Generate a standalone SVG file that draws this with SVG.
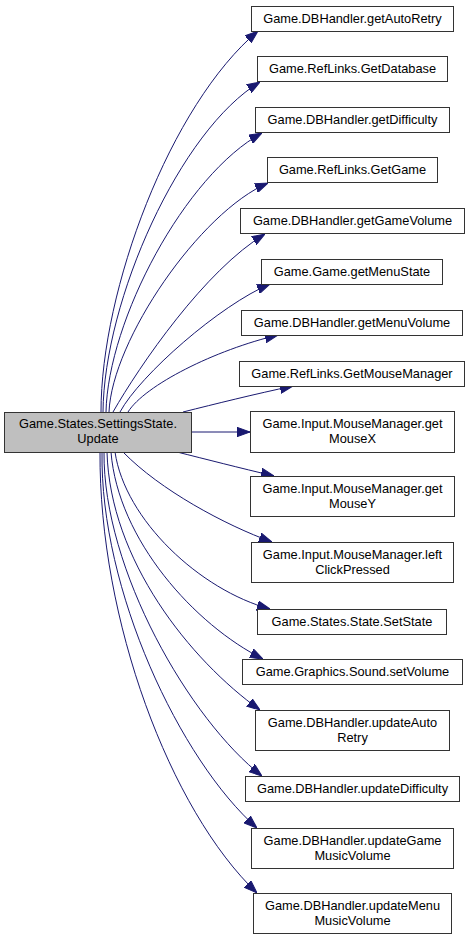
<svg xmlns="http://www.w3.org/2000/svg" width="471" height="939" viewBox="0 0 471 939">
<style>
.n rect{fill:#ffffff;stroke:#333333;stroke-width:1}
.m rect{fill:#bfbfbf;stroke:#333333;stroke-width:1}
text{font-family:"Liberation Sans",Arial,sans-serif;font-size:12.8px;fill:#000000;text-anchor:middle}
.e path{fill:none;stroke:#191970;stroke-width:1;marker-end:url(#arr)}
</style>
<defs>
<marker id="arr" markerUnits="userSpaceOnUse" markerWidth="13" markerHeight="10" viewBox="0 0 13 10" refX="13" refY="5" orient="auto">
<path d="M0,0.3 L13,5 L0,9.7 z" fill="#191970" stroke="#191970" stroke-width="1"/>
</marker>
</defs>
<rect width="471" height="939" fill="#ffffff"/>
<g id="edges" class="e">
<path d="M101,412 C101,290 170,105 258,31"/>
<path d="M103,412 C104,300 180,130 260,82"/>
<path d="M106,412 C108,320 185,175 262,133"/>
<path d="M109,412 C112,340 200,212 268,183"/>
<path d="M113,412 C140,365 205,270 265,234"/>
<path d="M120,412 C140,375 220,305 270,284"/>
<path d="M128,412 C145,385 215,350 278,335"/>
<path d="M183,412 C215,404 255,394 293,386"/>
<path d="M192,432 L250,432"/>
<path d="M177,452 C205,459 240,468 274,476"/>
<path d="M123,452 C160,490 225,525 272,542"/>
<path d="M115,452 C125,520 200,590 270,609"/>
<path d="M111,452 C118,540 195,625 263,659"/>
<path d="M107,452 C110,560 190,660 260,710"/>
<path d="M104,452 C103,570 190,720 262,776"/>
<path d="M102,452 C100,590 180,760 257,828"/>
<path d="M100,452 C99,620 170,810 257,893"/>
</g>
<g id="main" class="m"><rect x="4.5" y="412.5" width="187" height="40"/><text x="98" y="428">Game.States.SettingsState.</text><text x="98" y="443">Update</text></g>
<g id="n1" class="n"><rect x="251.5" y="6.5" width="202" height="25"/><text x="352.5" y="23">Game.DBHandler.getAutoRetry</text></g>
<g id="n2" class="n"><rect x="257.5" y="56.5" width="190" height="25"/><text x="352.5" y="73">Game.RefLinks.GetDatabase</text></g>
<g id="n3" class="n"><rect x="255.5" y="107.5" width="194" height="25"/><text x="352.5" y="124">Game.DBHandler.getDifficulty</text></g>
<g id="n4" class="n"><rect x="267.5" y="157.5" width="170" height="25"/><text x="352.5" y="174">Game.RefLinks.GetGame</text></g>
<g id="n5" class="n"><rect x="240.5" y="208.5" width="224" height="25"/><text x="352.5" y="225">Game.DBHandler.getGameVolume</text></g>
<g id="n6" class="n"><rect x="261.5" y="259.5" width="181" height="25"/><text x="352" y="276">Game.Game.getMenuState</text></g>
<g id="n7" class="n"><rect x="241.5" y="310.5" width="221" height="25"/><text x="352" y="327">Game.DBHandler.getMenuVolume</text></g>
<g id="n8" class="n"><rect x="239.5" y="361.5" width="225" height="25"/><text x="352" y="378">Game.RefLinks.GetMouseManager</text></g>
<g id="n9" class="n"><rect x="250.5" y="411.5" width="204" height="41"/><text x="352.5" y="428">Game.Input.MouseManager.get</text><text x="352.5" y="443">MouseX</text></g>
<g id="n10" class="n"><rect x="250.5" y="476.5" width="204" height="40"/><text x="352.5" y="493">Game.Input.MouseManager.get</text><text x="352.5" y="508">MouseY</text></g>
<g id="n11" class="n"><rect x="251.5" y="542.5" width="202" height="40"/><text x="352.5" y="559">Game.Input.MouseManager.left</text><text x="352.5" y="574">ClickPressed</text></g>
<g id="n12" class="n"><rect x="257.5" y="609.5" width="189" height="25"/><text x="352" y="626">Game.States.State.SetState</text></g>
<g id="n13" class="n"><rect x="242.5" y="659.5" width="220" height="25"/><text x="352.5" y="676">Game.Graphics.Sound.setVolume</text></g>
<g id="n14" class="n"><rect x="255.5" y="710.5" width="194" height="40"/><text x="352.5" y="727">Game.DBHandler.updateAuto</text><text x="352.5" y="742">Retry</text></g>
<g id="n15" class="n"><rect x="245.5" y="776.5" width="214" height="25"/><text x="352.5" y="793">Game.DBHandler.updateDifficulty</text></g>
<g id="n16" class="n"><rect x="251.5" y="828.5" width="202" height="40"/><text x="352.5" y="845">Game.DBHandler.updateGame</text><text x="352.5" y="860">MusicVolume</text></g>
<g id="n17" class="n"><rect x="253.5" y="893.5" width="198" height="40"/><text x="352.5" y="910">Game.DBHandler.updateMenu</text><text x="352.5" y="925">MusicVolume</text></g>
</svg>
